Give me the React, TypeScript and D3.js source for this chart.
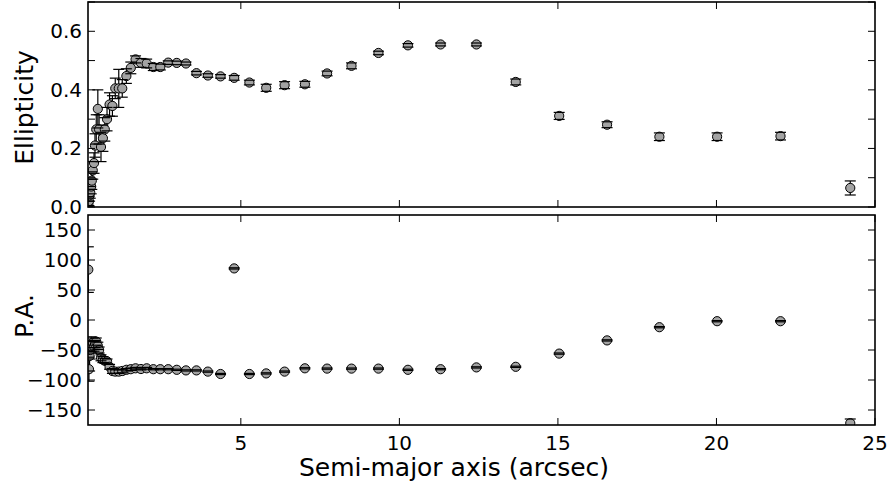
import React from "react";
import * as d3 from "d3";

// Semi-major axis (arcsec)
const sma = [0.19, 0.21, 0.23, 0.25, 0.28, 0.30, 0.33, 0.37, 0.40, 0.44, 0.49, 0.53, 0.59, 0.65, 0.71, 0.78, 0.86, 0.95, 1.04, 1.15, 1.26, 1.39, 1.53, 1.68, 1.85, 2.03, 2.24, 2.46, 2.71, 2.98, 3.27, 3.60, 3.96, 4.36, 4.79, 5.27, 5.80, 6.38, 7.02, 7.72, 8.49, 9.34, 10.27, 11.30, 12.43, 13.67, 15.04, 16.55, 18.20, 20.02, 22.02, 24.22];

const ellipticity = [0.01, 0.02, 0.04, 0.05, 0.07, 0.09, 0.125, 0.15, 0.21, 0.265, 0.335, 0.265, 0.205, 0.235, 0.265, 0.30, 0.35, 0.345, 0.405, 0.405, 0.405, 0.447, 0.475, 0.504, 0.492, 0.490, 0.478, 0.478, 0.493, 0.492, 0.490, 0.457, 0.449, 0.446, 0.441, 0.425, 0.407, 0.416, 0.419, 0.456, 0.482, 0.526, 0.552, 0.555, 0.555, 0.427, 0.311, 0.281, 0.240, 0.240, 0.242, 0.065];

const ellipticityErr = [0.01, 0.015, 0.02, 0.02, 0.025, 0.03, 0.03, 0.035, 0.04, 0.05, 0.065, 0.05, 0.05, 0.045, 0.04, 0.04, 0.04, 0.035, 0.035, 0.065, 0.03, 0.025, 0.02, 0.012, 0.015, 0.015, 0.012, 0.01, 0.006, 0.006, 0.005, 0.006, 0.006, 0.006, 0.008, 0.008, 0.012, 0.012, 0.01, 0.008, 0.01, 0.006, 0.006, 0.005, 0.005, 0.01, 0.012, 0.01, 0.013, 0.013, 0.013, 0.024];

const positionAngle = [84, -82, -60, -50, -40, -45, -38, -44, -40, -36, -43, -50, -63, -66, -68, -69, -78, -85, -86, -86, -85, -83, -82, -80.5, -81.7, -80.5, -82, -82, -82, -83, -84, -84, -86, -90, 86, -90, -89, -86, -80.5, -81, -81, -81, -83, -82, -79, -78, -56, -34, -12, -2, -2, -172];

const positionAngleErr = [38, 20, 25, 15, 12, 10, 8, 8, 6, 6, 6, 5, 5, 5, 4, 4, 4, 4, 3, 3, 3, 2, 2, 1.5, 1.5, 1.5, 1, 1, 1, 1, 1, 1, 1, 1, 1, 1, 1, 1, 1, 1, 1, 1, 1, 1, 1, 1, 1, 1, 1, 1, 1, 7];

const xTicks = [5, 10, 15, 20, 25];
const xTickLabels = ["5", "10", "15", "20", "25"];
const ellTicks = [0, 0.1, 0.2, 0.3, 0.4, 0.5, 0.6, 0.7];
const ellTickLabels = ["0.0", "", "0.2", "", "0.4", "", "0.6", ""];
const paTicks = [-150, -100, -50, 0, 50, 100, 150];
const paTickLabels = ["\u2212150", "\u2212100", "\u221250", "0", "50", "100", "150"];

const FONT = "DejaVu Sans, sans-serif";
const LEFT = 88;
const RIGHT = 875;
const TOP1 = 2;
const BOT1 = 207;
const TOP2 = 215;
const BOT2 = 425;
const TICK = 7;

const x = d3.scaleLinear().domain([0.18, 25]).range([LEFT, RIGHT]);
const yE = d3.scaleLinear().domain([0, 0.7]).range([BOT1, TOP1]);
const yP = d3.scaleLinear().domain([-175, 175]).range([BOT2, TOP2]);

function Panel({ id, top, bottom, y, ticks, labels, vals, errs, showX }: any) {
  return (
    <g>
      <clipPath id={id}>
        <rect x={LEFT} y={top} width={RIGHT - LEFT} height={bottom - top} />
      </clipPath>
      <g clipPath={`url(#${id})`}>
        {sma.map((s, i) => (
          <line key={"v" + i} x1={x(s)} x2={x(s)} y1={y(vals[i] - errs[i])} y2={y(vals[i] + errs[i])} stroke="#000" strokeWidth={1.2} />
        ))}
        {sma.map((s, i) => (
          <circle key={"c" + i} cx={x(s)} cy={y(vals[i])} r={4.6} fill="#a3a3a3" stroke="#000" strokeWidth={1} />
        ))}
        {sma.map((s, i) => (
          <g key={"k" + i}>
            <line x1={x(s) - 5.5} x2={x(s) + 5.5} y1={y(vals[i] - errs[i])} y2={y(vals[i] - errs[i])} stroke="#000" strokeWidth={1.2} />
            <line x1={x(s) - 5.5} x2={x(s) + 5.5} y1={y(vals[i] + errs[i])} y2={y(vals[i] + errs[i])} stroke="#000" strokeWidth={1.2} />
          </g>
        ))}
      </g>
      {/* ticks */}
      {ticks.map((t: number, i: number) => (
        <g key={"yt" + i}>
          <line x1={LEFT} x2={LEFT + TICK} y1={y(t)} y2={y(t)} stroke="#000" strokeWidth={1} />
          <line x1={RIGHT} x2={RIGHT - TICK} y1={y(t)} y2={y(t)} stroke="#000" strokeWidth={1} />
          {labels[i] && (
            <text x={LEFT - 6} y={y(t)} textAnchor="end" dominantBaseline="central" fontFamily={FONT} fontSize={20} fill="#000">
              {labels[i]}
            </text>
          )}
        </g>
      ))}
      {xTicks.map((t, i) => (
        <g key={"xt" + i}>
          <line x1={x(t)} x2={x(t)} y1={bottom} y2={bottom - TICK} stroke="#000" strokeWidth={1} />
          <line x1={x(t)} x2={x(t)} y1={top} y2={top + TICK} stroke="#000" strokeWidth={1} />
          {showX && (
            <text x={x(t)} y={bottom + 25} textAnchor="middle" fontFamily={FONT} fontSize={20} fill="#000">
              {xTickLabels[i]}
            </text>
          )}
        </g>
      ))}
      <rect x={LEFT} y={top} width={RIGHT - LEFT} height={bottom - top} fill="none" stroke="#000" strokeWidth={1.6} />
    </g>
  );
}

export default function App() {
  return (
    <svg width={893} height={492} style={{ position: "absolute", left: 0, top: 0, background: "#fff" }}>
      <rect width={893} height={492} fill="#fff" />
      <Panel id="c1" top={TOP1} bottom={BOT1} y={yE} ticks={ellTicks} labels={ellTickLabels} vals={ellipticity} errs={ellipticityErr} showX={false} />
      <Panel id="c2" top={TOP2} bottom={BOT2} y={yP} ticks={paTicks} labels={paTickLabels} vals={positionAngle} errs={positionAngleErr} showX={true} />
      <text x={454} y={476} textAnchor="middle" fontFamily={FONT} fontSize={25} fill="#000">
        Semi-major axis (arcsec)
      </text>
      <text transform={`translate(33,${(TOP1 + BOT1) / 2 + 3}) rotate(-90)`} textAnchor="middle" fontFamily={FONT} fontSize={25} fill="#000">
        Ellipticity
      </text>
      <text transform={`translate(33,${(TOP2 + BOT2) / 2 - 4}) rotate(-90)`} textAnchor="middle" fontFamily={FONT} fontSize={25} fill="#000">
        P.A.
      </text>
    </svg>
  );
}
